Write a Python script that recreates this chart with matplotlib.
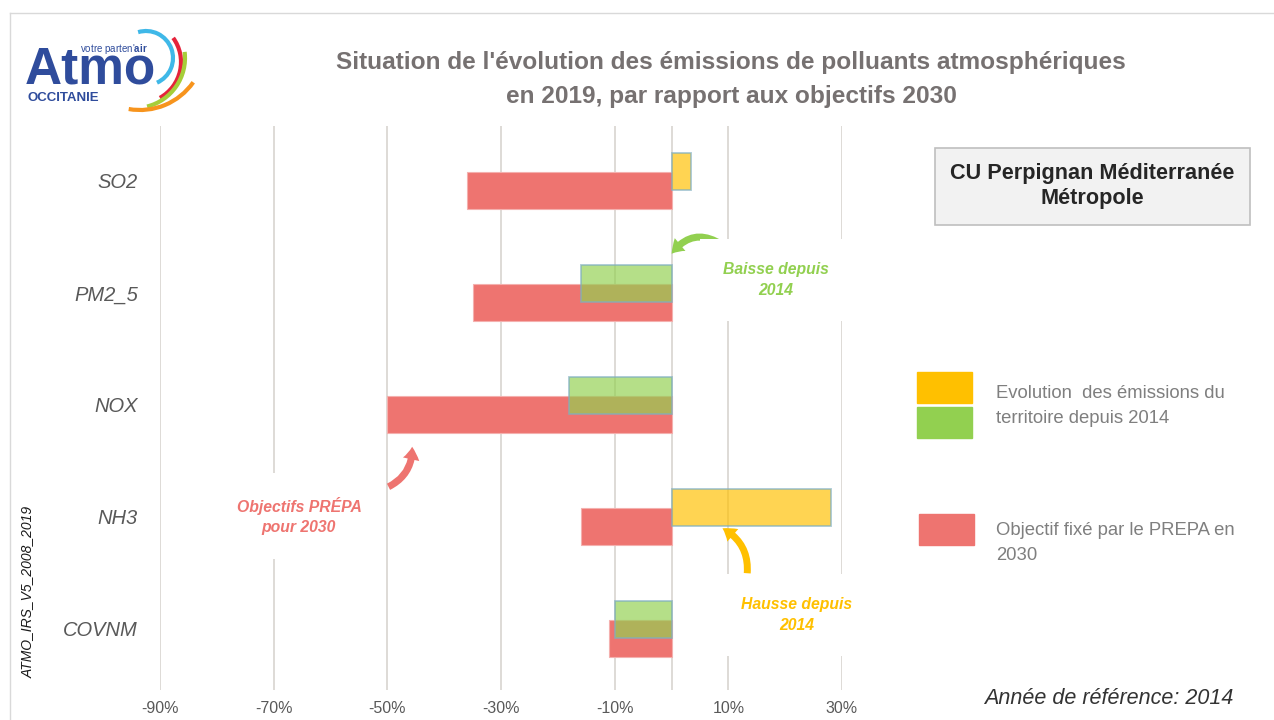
"""Evolution des emissions 2019 vs objectifs PREPA 2030 - CU Perpignan"""

import matplotlib
matplotlib.use('Agg')
import matplotlib.pyplot as plt
from matplotlib.patches import Rectangle, Arc, FancyArrowPatch
import numpy as np

categories = ['SO2', 'PM2_5', 'NOX', 'NH3', 'COVNM']
evolution = [3.5, -16, -18, 28, -10]      # % depuis 2014
objectif = [-36, -35, -50, -16, -11]      # objectif PREPA 2030 (%)
x_ticks = [-90, -70, -50, -30, -10, 10, 30]

YELLOW = '#FFC000'
GREEN = '#92D050'
RED = '#EE7470'
GRID = '#DEDBD6'
SANS = ['Liberation Sans', 'DejaVu Sans']

plt.rcParams['mathtext.fontset'] = 'custom'
plt.rcParams['mathtext.rm'] = 'Liberation Sans'
plt.rcParams['mathtext.bf'] = 'Liberation Sans:bold'

W, H = 1274, 720
fig = plt.figure(figsize=(W / 100, H / 100), dpi=100)

ax = fig.add_axes([160 / W, 1 - 690 / H, 682 / W, (690 - 126) / H])
y = np.arange(len(categories))
bar_h, off = 0.33, 0.085

ax.barh(y + off, objectif, height=bar_h, color=RED, edgecolor='#F4B0AE',
        lw=0.8, zorder=2)
evo_cols = [YELLOW if v > 0 else GREEN for v in evolution]
ax.barh(y - off, evolution, height=bar_h, color=evo_cols, alpha=0.68,
        edgecolor='#7FAFC0', lw=1.3, zorder=3)

ax.set_xlim(-90, 30)
ax.set_ylim(4.545, -0.49)
ax.set_xticks(x_ticks)
ax.set_xticklabels([f'{t}%' for t in x_ticks], family=SANS, fontsize=11.5,
                   color='#595959')
ax.set_yticks(y)
ax.set_yticklabels(categories, family=SANS, style='italic', fontsize=14.5,
                   color='#595959')
ax.tick_params(length=0, pad=16, axis='y')
ax.tick_params(length=0, pad=8, axis='x')
for t in x_ticks + [0]:
    ax.axvline(t, color=GRID, lw=1.4, zorder=1)
for s in ax.spines.values():
    s.set_visible(False)

# overlay in pixel coordinates for decorations
ov = fig.add_axes([0, 0, 1, 1], zorder=5)
ov.set_xlim(0, W)
ov.set_ylim(H, 0)
ov.axis('off')
ov.patch.set_alpha(0)

# slide border
ov.plot([10, W], [13, 13], color='#D9D9D9', lw=1)
ov.plot([10, 10], [13, H], color='#D9D9D9', lw=1)

# logo
ov.text(25, 84, 'Atmo', family=SANS, weight='bold', fontsize=37,
        color='#2F4C9C', va='baseline')
ov.text(80, 52, r"votre parten'$\mathbf{air}$", family=SANS, fontsize=7,
        color='#2F4C9C', va='baseline')
ov.text(28, 101, 'OCCITANIE', family=SANS, weight='bold', fontsize=9.5,
        color='#2F4C9C', va='baseline')
arcs = [((146, 58), 27, -107, 66, '#3FB8E8'),
        ((140, 62), 41, -36, 61, '#E5233B'),
        ((135, 58), 50, -7, 76, '#A6CE39'),
        ((140, 45), 65, 35, 100, '#F7941D')]
for c0, r, a1, a2, c in arcs:
    ov.add_patch(Arc(c0, 2 * r, 2 * r, theta1=a1, theta2=a2, color=c, lw=3))

# title
ov.text(731, 62, "Situation de l'évolution des émissions de polluants atmosphériques",
        family=SANS, weight='bold', fontsize=17.6, color='#767171',
        ha='center', va='center')
ov.text(731, 96, 'en 2019, par rapport aux objectifs 2030', family=SANS,
        weight='bold', fontsize=17.6, color='#767171', ha='center', va='center')

# territory box
ov.add_patch(Rectangle((935, 148), 315, 77, facecolor='#F2F2F2',
                       edgecolor='#BFBFBF', lw=1.2))
ov.text(1092, 186, 'CU Perpignan Méditerranée\nMétropole', family=SANS,
        weight='bold', fontsize=15.6, color='#262626', ha='center',
        va='center', linespacing=1.3)

# legend
ov.add_patch(Rectangle((917, 372), 55, 31, color=YELLOW))
ov.add_patch(Rectangle((917, 407), 55, 31, color=GREEN))
ov.add_patch(Rectangle((919, 514), 55, 31, color=RED))
ov.text(996, 406, 'Evolution  des émissions du\nterritoire depuis 2014',
        family=SANS, fontsize=13.3, color='#7F7F7F', va='center',
        linespacing=1.55)
ov.text(996, 543, 'Objectif fixé par le PREPA en\n2030', family=SANS,
        fontsize=13.3, color='#7F7F7F', va='center', linespacing=1.55)

# annotations
box = dict(facecolor='white', edgecolor='none', pad=17)
ann = dict(family=SANS, weight='bold', style='italic', fontsize=11.3,
           ha='center', va='center', bbox=box, linespacing=1.45)
ov.text(776, 280, 'Baisse depuis\n2014', color=GREEN, **ann)
ov.text(299, 516, 'Objectifs PRÉPA\npour 2030', color=RED, **ann)
ov.text(797, 615, 'Hausse depuis\n2014', color=YELLOW, **ann)

arrow = 'simple,head_width=12,head_length=9,tail_width=5'
ov.add_patch(FancyArrowPatch((724, 246), (670, 256), arrowstyle=arrow,
                             connectionstyle='arc3,rad=0.5', color=GREEN,
                             mutation_scale=1, lw=0))
ov.add_patch(FancyArrowPatch((386, 488), (412, 444), arrowstyle=arrow,
                             connectionstyle='arc3,rad=0.35', color=RED,
                             mutation_scale=1, lw=0))
ov.add_patch(FancyArrowPatch((747, 576), (720, 527), arrowstyle=arrow,
                             connectionstyle='arc3,rad=0.35', color=YELLOW,
                             mutation_scale=1, lw=0))

# footers
ov.text(28, 592, 'ATMO_IRS_V5_2008_2019', family=SANS, style='italic',
        fontsize=10, color='#1A1A1A', rotation=90, ha='center',
        va='center')
ov.text(1233, 698, 'Année de référence: 2014', family=SANS, style='italic',
        fontsize=15.5, color='#333333', ha='right', va='center')

fig.savefig('out.png', dpi=100)
